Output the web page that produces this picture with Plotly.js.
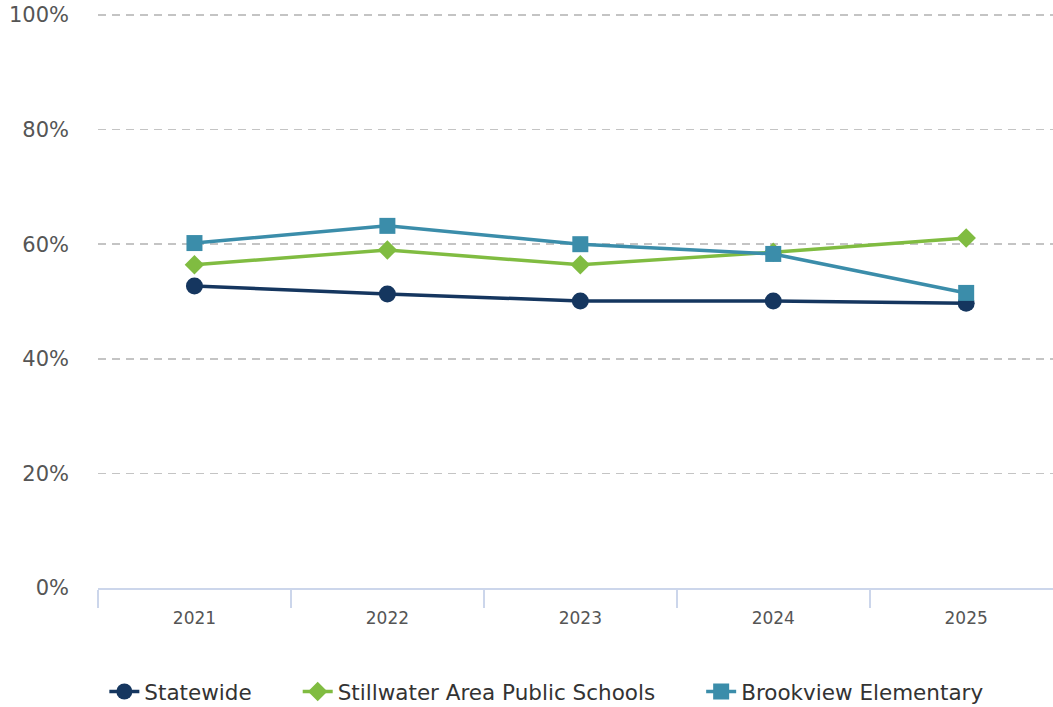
<!DOCTYPE html>
<html>
<head>
<meta charset="utf-8">
<script src="https://cdn.plot.ly/plotly-3.0.1.min.js"></script>
<style>html,body{margin:0;padding:0;background:#fff;}#chart{width:1053px;height:707px;}</style>
</head>
<body>
<div id="chart"></div>
<script>
const years = ["2021", "2022", "2023", "2024", "2025"];
const statewide = [52.7, 51.3, 50.1, 50.1, 49.7];
const stillwater = [56.4, 59.0, 56.4, 58.6, 61.1];
const brookview = [60.2, 63.2, 60.0, 58.3, 51.5];
const yTicks = [0, 20, 40, 60, 80, 100];
const yTickText = ["0%", "20%", "40%", "60%", "80%", "100%"];
const seriesNames = ["Statewide", "Stillwater Area Public Schools", "Brookview Elementary"];

const pad = "\u00a0\u00a0\u00a0\u00a0\u00a0\u00a0";
const traces = [
  {name: seriesNames[0] + pad, x: years, y: statewide, type: "scatter", mode: "lines+markers",
   line: {color: "#15365f", width: 3.5}, marker: {symbol: "circle", size: 17, color: "#15365f"}},
  {name: seriesNames[1] + pad, x: years, y: stillwater, type: "scatter", mode: "lines+markers",
   line: {color: "#80bc41", width: 3.5}, marker: {symbol: "diamond", size: 15, color: "#80bc41"}},
  {name: seriesNames[2], x: years, y: brookview, type: "scatter", mode: "lines+markers",
   line: {color: "#3b8daa", width: 3.5}, marker: {symbol: "square", size: 16, color: "#3b8daa"}}
];

const layout = {
  width: 1053, height: 707,
  margin: {l: 98, r: 0, t: 13, b: 119, autoexpand: false},
  paper_bgcolor: "#fff", plot_bgcolor: "#fff",
  font: {family: "DejaVu Sans, sans-serif", color: "#666"},
  showlegend: true,
  hovermode: false,
  xaxis: {
    type: "category", range: [-0.5, 4.45], automargin: false,
    showline: true, linecolor: "#ccd6eb", linewidth: 2,
    ticks: "outside", tickson: "boundaries", ticklen: 18, tickcolor: "#ccd6eb", tickwidth: 2,
    ticklabelstandoff: 14,
    showgrid: false, zeroline: false,
    tickfont: {size: 17, color: "#555"}
  },
  yaxis: {
    range: [0, 100.35], tickvals: yTicks, ticktext: yTickText, automargin: false,
    showgrid: true, gridcolor: "#c4c4c4", griddash: "8px,6px", gridwidth: 1.5,
    zeroline: false, showline: false, ticks: "",
    ticklabelstandoff: 28,
    tickfont: {size: 21, color: "#555"}
  },
  legend: {
    orientation: "h", x: 0.47, xanchor: "center", y: -0.18, yanchor: "middle",
    font: {size: 21.5, color: "#333"}, itemwidth: 30, traceorder: "normal"
  }
};

Plotly.newPlot("chart", traces, layout, {displayModeBar: false, staticPlot: true});
</script>
</body>
</html>
